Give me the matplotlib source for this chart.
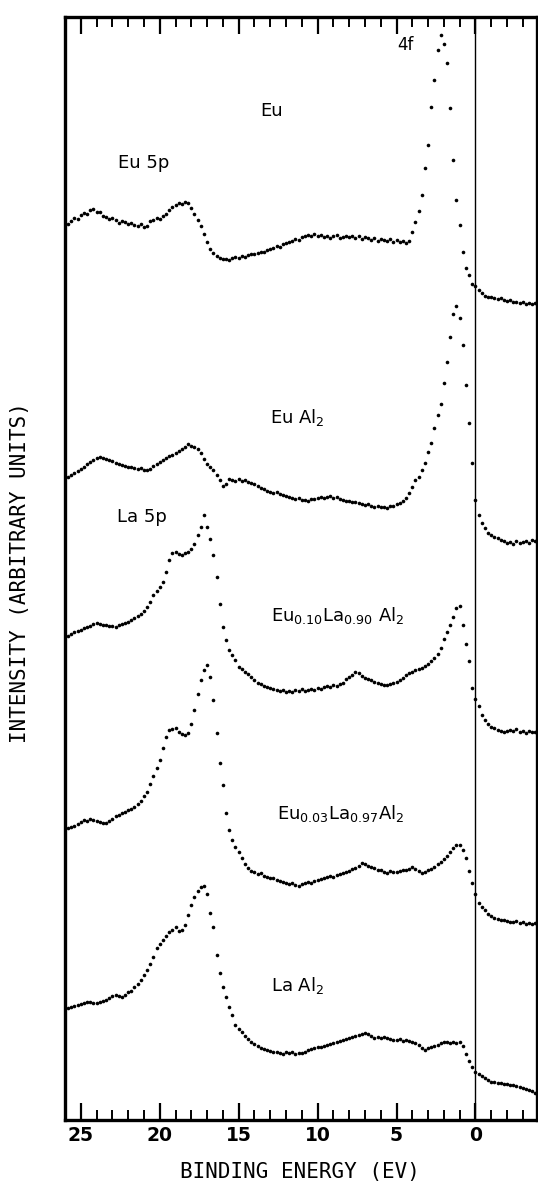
"""
Valence-band photoemission spectra of Eu, EuAl2, EuxLa1-xAl2 and LaAl2.
"""

import matplotlib
matplotlib.use("Agg")
import matplotlib.pyplot as plt
from matplotlib.ticker import MultipleLocator

plt.rcParams["mathtext.default"] = "regular"

# binding energy grid (eV), 0.2 eV steps
energy = [
    25.8, 25.6, 25.4, 25.2, 25.0, 24.8, 24.6, 24.4, 24.2, 24.0,
    23.8, 23.6, 23.4, 23.2, 23.0, 22.8, 22.6, 22.4, 22.2, 22.0,
    21.8, 21.6, 21.4, 21.2, 21.0, 20.8, 20.6, 20.4, 20.2, 20.0,
    19.8, 19.6, 19.4, 19.2, 19.0, 18.8, 18.6, 18.4, 18.2, 18.0,
    17.8, 17.6, 17.4, 17.2, 17.0, 16.8, 16.6, 16.4, 16.2, 16.0,
    15.8, 15.6, 15.4, 15.2, 15.0, 14.8, 14.6, 14.4, 14.2, 14.0,
    13.8, 13.6, 13.4, 13.2, 13.0, 12.8, 12.6, 12.4, 12.2, 12.0,
    11.8, 11.6, 11.4, 11.2, 11.0, 10.8, 10.6, 10.4, 10.2, 10.0,
    9.8, 9.6, 9.4, 9.2, 9.0, 8.8, 8.6, 8.4, 8.2, 8.0,
    7.8, 7.6, 7.4, 7.2, 7.0, 6.8, 6.6, 6.4, 6.2, 6.0,
    5.8, 5.6, 5.4, 5.2, 5.0, 4.8, 4.6, 4.4, 4.2, 4.0,
    3.8, 3.6, 3.4, 3.2, 3.0, 2.8, 2.6, 2.4, 2.2, 2.0,
    1.8, 1.6, 1.4, 1.2, 1.0, 0.8, 0.6, 0.4, 0.2, 0.0,
    -0.2, -0.4, -0.6, -0.8, -1.0, -1.2, -1.4, -1.6, -1.8, -2.0,
    -2.2, -2.4, -2.6, -2.8, -3.0, -3.2, -3.4, -3.6, -3.8,
]

# intensities (arbitrary units, vertically offset as in the figure)
eu = [
    896, 899, 902, 901, 905, 907, 906, 910, 911, 908,
    908, 904, 903, 901, 902, 900, 897, 899, 898, 896,
    897, 895, 894, 896, 893, 894, 899, 900, 902, 901,
    904, 906, 910, 913, 915, 917, 916, 918, 917, 912,
    906, 900, 894, 886, 878, 871, 867, 864, 862, 861,
    861, 860, 862, 863, 862, 864, 863, 865, 866, 866,
    867, 868, 868, 870, 871, 872, 874, 873, 876, 877,
    878, 879, 881, 880, 883, 884, 885, 884, 886, 884,
    885, 883, 884, 882, 884, 885, 882, 883, 884, 883,
    884, 882, 884, 881, 883, 882, 880, 882, 879, 881,
    880, 879, 881, 878, 880, 878, 879, 877, 879, 888,
    898, 909, 925, 952, 975, 1013, 1040, 1070, 1085, 1076,
    1057, 1012, 960, 920, 895, 868, 852, 845, 836, 834,
    830, 827, 824, 823, 823, 822, 821, 822, 820, 819,
    820, 818, 818, 817, 818, 816, 817, 816, 817,
]

eu_al2 = [
    643, 645, 647, 649, 651, 653, 656, 658, 660, 662,
    663, 662, 661, 660, 659, 657, 656, 655, 654, 653,
    653, 652, 651, 652, 650, 650, 651, 654, 656, 658,
    660, 662, 664, 665, 667, 669, 671, 673, 676, 674,
    673, 671, 667, 661, 656, 653, 650, 645, 640, 634,
    636, 641, 640, 639, 641, 639, 640, 638, 637, 636,
    634, 632, 631, 629, 628, 627, 628, 626, 625, 624,
    623, 622, 621, 622, 620, 620, 619, 621, 621, 622,
    623, 622, 623, 624, 622, 623, 621, 620, 619, 619,
    618, 618, 617, 616, 615, 616, 614, 613, 614, 613,
    613, 612, 614, 614, 616, 617, 619, 622, 627, 633,
    640, 643, 650, 657, 668, 677, 692, 705, 716, 737,
    758, 783, 806, 814, 802, 775, 735, 697, 657, 620,
    605, 597, 592, 587, 585, 583, 582, 580, 579, 577,
    578, 576, 579, 577, 578, 579, 577, 580, 579,
]

eu10_la90_al2 = [
    484, 486, 488, 489, 490, 492, 493, 494, 496, 497,
    496, 495, 495, 494, 494, 493, 495, 496, 497, 498,
    500, 502, 504, 506, 509, 513, 518, 525, 529, 533,
    538, 548, 560, 567, 568, 566, 565, 567, 568, 571,
    576, 585, 593, 605, 593, 581, 565, 543, 516, 493,
    480, 470, 465, 460, 453, 451, 448, 446, 443, 440,
    437, 436, 434, 433, 432, 431, 430, 429, 430, 428,
    429, 428, 430, 429, 431, 429, 430, 431, 430, 432,
    431, 433, 434, 433, 435, 434, 436, 437, 441, 443,
    445, 448, 447, 444, 442, 441, 440, 438, 437, 436,
    435, 435, 436, 437, 438, 440, 442, 445, 447, 448,
    450, 451, 452, 454, 456, 459, 462, 466, 472, 481,
    488, 495, 503, 512, 514, 495, 476, 459, 432, 421,
    414, 405, 400, 396, 393, 392, 390, 389, 388, 389,
    390, 389, 391, 388, 389, 387, 389, 388, 388,
]

eu03_la97_al2 = [
    292, 293, 294, 296, 298, 300, 299, 301, 300, 299,
    298, 297, 297, 299, 301, 304, 305, 307, 308, 310,
    311, 313, 316, 319, 324, 328, 336, 344, 352, 360,
    372, 383, 390, 391, 392, 388, 386, 385, 387, 396,
    410, 426, 440, 450, 455, 443, 420, 387, 357, 335,
    307, 290, 280, 273, 268, 262, 256, 252, 249, 248,
    246, 247, 244, 243, 242, 242, 240, 239, 238, 237,
    236, 237, 235, 234, 236, 237, 238, 237, 239, 240,
    241, 242, 243, 244, 243, 245, 246, 247, 248, 249,
    251, 252, 254, 257, 256, 254, 253, 252, 250, 250,
    248, 247, 249, 248, 248, 249, 250, 250, 251, 253,
    251, 249, 247, 248, 250, 251, 253, 256, 258, 261,
    264, 268, 272, 275, 275, 270, 262, 249, 237, 226,
    217, 213, 210, 206, 204, 202, 201, 200, 200, 199,
    198, 198, 199, 197, 198, 196, 197, 196, 197,
]

la_al2 = [
    112, 113, 114, 115, 116, 117, 118, 118, 117, 117,
    118, 119, 120, 122, 124, 125, 124, 123, 125, 128,
    129, 133, 136, 140, 145, 150, 156, 163, 172, 176,
    180, 184, 188, 190, 193, 189, 190, 195, 205, 215,
    223, 229, 233, 234, 226, 207, 193, 165, 147, 133,
    123, 113, 105, 95, 91, 88, 84, 81, 78, 76,
    74, 72, 71, 70, 69, 68, 68, 67, 66, 68,
    67, 68, 66, 67, 67, 68, 70, 71, 72, 73,
    73, 74, 75, 76, 77, 78, 79, 80, 81, 82,
    83, 84, 85, 86, 87, 86, 84, 82, 83, 82,
    83, 82, 81, 80, 80, 81, 79, 80, 79, 78,
    77, 75, 72, 70, 72, 73, 74, 75, 77, 78,
    78, 77, 78, 77, 78, 74, 66, 59, 53, 48,
    46, 44, 42, 40, 38, 38, 37, 37, 36, 36,
    35, 35, 34, 33, 32, 31, 30, 29, 27,
]

spectra = [eu, eu_al2, eu10_la90_al2, eu03_la97_al2, la_al2]

# text labels: (text, energy, intensity, size)
labels = [
    ("4f", 4.45, 1075, 12),
    ("Eu", 12.9, 1009, 13),
    ("Eu 5p", 21.0, 957, 13),
    ("Eu Al$_2$", 11.3, 703, 13),
    ("La 5p", 21.1, 603, 13),
    ("Eu$_{0.10}$La$_{0.90}$ Al$_2$", 8.7, 505, 13),
    ("Eu$_{0.03}$La$_{0.97}$Al$_2$", 8.55, 306, 13),
    ("La Al$_2$", 11.25, 135, 13),
]

W, H = 538, 1184
fig = plt.figure(figsize=(W / 100, H / 100), dpi=100)
ax = fig.add_axes([65 / W, (H - 1120) / H, (537 - 65) / W, (1120 - 17) / H])

for s in spectra:
    ax.plot(energy, s, "o", color="black", ms=2.6, mew=0)

ax.axvline(0, color="black", lw=1.0)

for txt, e, inten, size in labels:
    ax.text(e, inten, txt, ha="center", va="center", fontsize=size,
            family="DejaVu Sans")

ax.set_xlim(26.0, -3.9)
ax.set_ylim(0, 1103)

ax.xaxis.set_major_locator(MultipleLocator(5))
ax.xaxis.set_minor_locator(MultipleLocator(1))
ax.tick_params(axis="x", which="major", direction="in", length=12, width=1.6,
               top=True, bottom=True, labelsize=13.5, pad=4)
ax.tick_params(axis="x", which="minor", direction="in", length=7, width=1.4,
               top=True, bottom=True)
ax.set_yticks([])
for lab in ax.get_xticklabels():
    lab.set_fontweight("bold")

for side in ["left", "right", "top", "bottom"]:
    ax.spines[side].set_linewidth(2.4)

fig.text(300 / W, 1 - 1172 / H, "BINDING ENERGY (EV)", ha="center", va="center",
         fontsize=15, family="DejaVu Sans Mono")
fig.text(20 / W, 1 - 573 / H, "INTENSITY (ARBITRARY UNITS)", ha="center",
         va="center", rotation=90, fontsize=15, family="DejaVu Sans Mono")

fig.savefig("out.png", dpi=100)
